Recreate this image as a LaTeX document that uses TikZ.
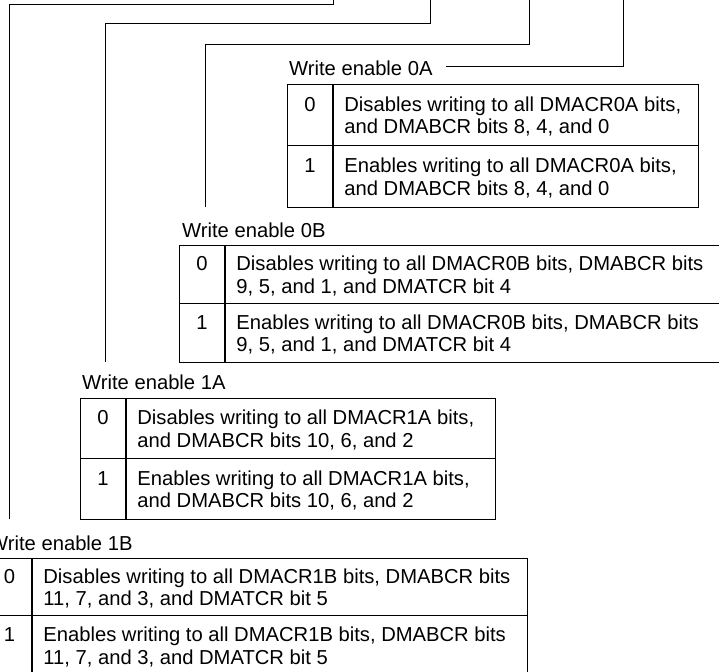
\documentclass[tikz,border=0pt]{standalone}
\usepackage{fontspec}
\setmainfont{Liberation Sans}
% #1 name, #2 left x, #3 top y, #4 number column width, #5 text column width,
% #6 row height, #7 value, #8 first text line, #9 second text line
\newcommand\mytabrow[9]{%
  \node[cell, minimum width=#4pt, minimum height=#6pt] (#1n) at (#2,#3) {};
  \node[cell, minimum width=#5pt, minimum height=#6pt] (#1d) at (#1n.north east) {};
  \path (#1n.center) ++(0,-4) coordinate (#1b);
  \node[numtxt] (#1v) at (#1b) {#7};
  \node[txtline, xshift=11pt] (#1x) at (#1b -| #1d.west) {#8};
  \node[txtline] (#1y) at ([yshift=-22.5pt]#1x.base west) {#9};
}
\begin{document}
\begin{tikzpicture}[x=1pt,y=-1pt,
  font=\fontsize{20.2}{22.5}\selectfont,
  conn/.style={line width=0.9pt},
  cell/.style={draw, line width=1.2pt, inner sep=0pt, anchor=north west},
  txtline/.style={anchor=base west, inner sep=0pt},
  numtxt/.style={anchor=base, inner sep=0pt},
  lbl/.style={anchor=west, inner sep=0pt}]
\useasboundingbox (0,0) rectangle (719,671);
\clip (0,0) rectangle (719,671);

% ---------- Write enable 0A ----------
\node[lbl] (l0A) at (289,68) {Write enable 0A};
\mytabrow{a0}{287}{84}{45}{365}{61}{0}{Disables writing to all DMACR0A bits,}{and DMABCR bits 8, 4, and 0}
\mytabrow{a1}{287}{145}{45}{365}{62}{1}{Enables writing to all DMACR0A bits,}{and DMABCR bits 8, 4, and 0}

% ---------- Write enable 0B ----------
\node[lbl] (l0B) at (182,230) {Write enable 0B};
\mytabrow{b0}{179}{245}{45}{540}{58}{0}{Disables writing to all DMACR0B bits, DMABCR bits}{9, 5, and 1, and DMATCR bit 4}
\mytabrow{b1}{179}{303}{45}{540}{59}{1}{Enables writing to all DMACR0B bits, DMABCR bits}{9, 5, and 1, and DMATCR bit 4}

% ---------- Write enable 1A ----------
\node[lbl] (l1A) at (82,382) {Write enable 1A};
\mytabrow{c0}{80}{398}{45}{369}{60}{0}{Disables writing to all DMACR1A bits,}{and DMABCR bits 10, 6, and 2}
\mytabrow{c1}{80}{458}{45}{369}{61}{1}{Enables writing to all DMACR1A bits,}{and DMABCR bits 10, 6, and 2}

% ---------- Write enable 1B ----------
\node[lbl] (l1B) at (-11,543) {Write enable 1B};
\mytabrow{d0}{-13}{558}{44}{495}{57}{0}{Disables writing to all DMACR1B bits, DMABCR bits}{11, 7, and 3, and DMATCR bit 5}
\mytabrow{d1}{-13}{615}{44}{495}{60}{1}{Enables writing to all DMACR1B bits, DMABCR bits}{11, 7, and 3, and DMATCR bit 5}

% ---------- connectors ----------
\coordinate (s1) at (333,-3);
\coordinate (k1) at (9,4);
\coordinate (e1) at (9,519);
\coordinate (s2) at (430,-3);
\coordinate (k2) at (105,23);
\coordinate (e2) at (105,362);
\coordinate (s3) at (529,-3);
\coordinate (k3) at (205,44);
\coordinate (e3) at (205,207);
\coordinate (s4) at (623,-3);

\draw[conn] (s1) |- (k1) -- (e1);
\draw[conn] (s2) |- (k2) -- (e2);
\draw[conn] (s3) |- (k3) -- (e3);
\draw[conn, shorten <=13pt] ([yshift=1.5pt]l0A.east) -| (s4);
\end{tikzpicture}
\end{document}
